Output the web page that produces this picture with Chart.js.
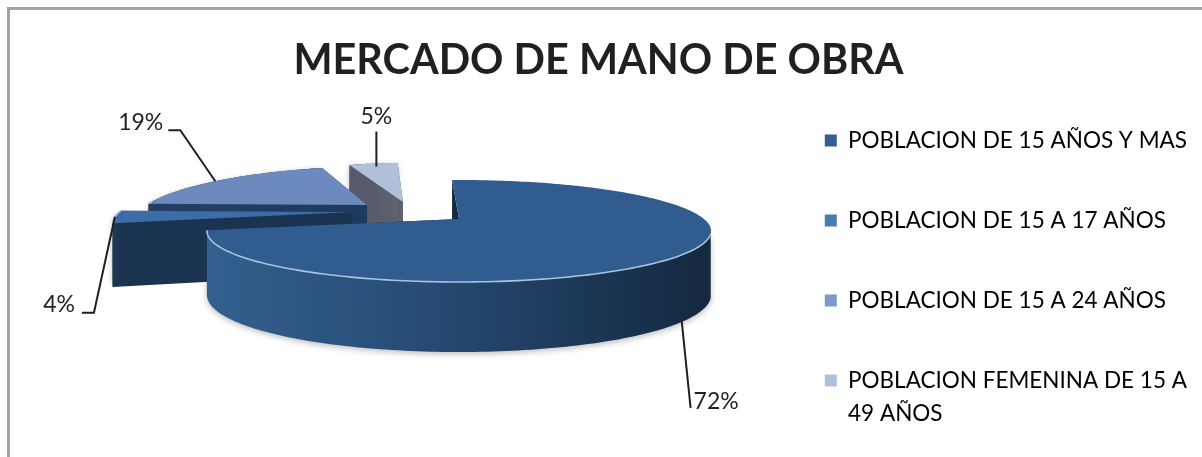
<!DOCTYPE html>
<html>
<head>
<meta charset="utf-8">
<title>Mercado de mano de obra</title>
<script src="https://cdn.jsdelivr.net/npm/chart.js@4"></script>
<style>
    html, body { margin: 0; padding: 0; background: #ffffff; overflow: hidden; height: 457px; }
    #wrap { position: absolute; left: 7px; top: 7px; width: 1195px; height: 486px; border-left: 3px solid #a2a2a2; border-top: 3px solid #a2a2a2; box-sizing: border-box; }
</style>
</head>
<body>
<div id="wrap"><canvas id="pieChart"></canvas></div>
<script>
const chartTitle = 'MERCADO DE MANO DE OBRA';
const categories = [
    'POBLACION DE 15 AÑOS Y MAS',
    'POBLACION DE 15 A 17 AÑOS',
    'POBLACION DE 15 A 24 AÑOS',
    ['POBLACION FEMENINA DE 15 A', '49 AÑOS']
];
const shares = [72, 4, 19, 5];
const legendColors = ['#345f94', '#4a7ab4', '#7b98c6', '#b0c0dc'];

// look of the tilted pie, one entry per slice
const topColors = ['#315c90', '#3d6ca6', '#6c8abd', '#b1c0d9'];
const wallLight = ['#33608f', '#1c3856', '#223f63', '#565a6b'];
const wallDark = ['#14283f', '#1a3350', '#1e3a5e', '#60646e'];
const shiftX = [0, -107, -92, -56];
const shiftY = [0, -7, -14, -17];
const shrinkX = [1, 0.95, 0.9, 0.78];
const skewX = [0, 0, 18, 0];
const leaders = [
    [[-4, 0], [5, 88]],
    [[0, 0], [-21, 96], [-33, 96]],
    [[-5, 1], [-40, -50], [-52, -50]],
    [[3, 3], [3, -32]]
];
const labelAt = [[8, 81, 'left'], [-40, 88, 'right'], [-57, -58, 'right'], [3, -47, 'center']];

// where the pie sits on the canvas and how it is tilted
const pieX = 449, pieY = 209;
const tiltA = 48.2, tiltB = 245, tiltP = 0.235;

function project(i, angle) {
    // chart.js angles start at 3 o'clock going clockwise
    const u = Math.cos(angle), v = -Math.sin(angle);
    const w = 1 + tiltP * v;
    return {
        x: pieX + shiftX[i] + shrinkX[i] * tiltB * u / w + skewX[i] * v,
        y: pieY + shiftY[i] - tiltA * v / w,
        v: v
    };
}

function depth(v) {
    return 62 - 8 * v;
}

function arcPoints(i, a0, a1) {
    const pts = [];
    const n = Math.max(2, Math.ceil((a1 - a0) / 0.02));
    for (let k = 0; k <= n; k++) pts.push(project(i, a0 + (a1 - a0) * k / n));
    return pts;
}

function polygon(ctx, pts) {
    ctx.beginPath();
    pts.forEach((p, k) => k ? ctx.lineTo(p.x, p.y) : ctx.moveTo(p.x, p.y));
    ctx.closePath();
}

function drawSlice(ctx, i, arc) {
    const apex = { x: pieX + shiftX[i], y: pieY + shiftY[i] };
    const rim = arcPoints(i, arc.startAngle, arc.endAngle);
    const down = p => ({ x: p.x, y: p.y + depth(p.v) });
    const apexDown = { x: apex.x, y: apex.y + depth(0) };
    // only the part of the big slice's rim turned towards the viewer gets a wall
    const front = i > 0 ? rim : rim.filter(p => p.v < -0.28 || (p.v < 0 && p.x < pieX));

    // flat cut walls first
    ctx.fillStyle = wallDark[i];
    [rim[0], rim[rim.length - 1]].forEach(p => {
        polygon(ctx, [apex, p, down(p), apexDown]);
        ctx.fill();
    });

    // outer wall
    const xs = front.map(p => p.x);
    const grad = ctx.createLinearGradient(Math.min(...xs), 0, Math.max(...xs), 0);
    grad.addColorStop(0, wallLight[i]);
    grad.addColorStop(0.45, i === 0 ? '#264a73' : wallLight[i]);
    grad.addColorStop(1, wallDark[i]);
    ctx.save();
    ctx.shadowColor = 'rgba(60,60,60,0.35)';
    ctx.shadowBlur = 6;
    ctx.shadowOffsetY = 2;
    ctx.fillStyle = grad;
    polygon(ctx, front.concat(front.map(down).reverse()));
    ctx.fill();
    ctx.restore();

    // top face
    ctx.fillStyle = topColors[i];
    polygon(ctx, [apex].concat(rim));
    ctx.fill();

    // light edge along the front
    ctx.strokeStyle = '#a9c3de';
    ctx.lineWidth = 1.6;
    ctx.beginPath();
    front.filter(p => p.v < 0.08).forEach((p, k) => k ? ctx.lineTo(p.x, p.y) : ctx.moveTo(p.x, p.y));
    ctx.stroke();
}

const tiltedPie = {
    id: 'tiltedPie',
    beforeDatasetsDraw(chart) {
        const ctx = chart.ctx;
        const arcs = chart.getDatasetMeta(0).data;
        ctx.save();
        // back to front
        [3, 2, 1, 0].forEach(i => drawSlice(ctx, i, arcs[i]));

        // leader lines and percentages
        arcs.forEach((arc, i) => {
            const p = project(i, (arc.startAngle + arc.endAngle) / 2);
            const x = p.x, y = p.v < -0.5 ? p.y + depth(p.v) : p.y;
            ctx.strokeStyle = '#231f20';
            ctx.lineWidth = 2;
            ctx.beginPath();
            leaders[i].forEach((o, k) => k ? ctx.lineTo(x + o[0], y + o[1]) : ctx.moveTo(x + o[0], y + o[1]));
            ctx.stroke();

            ctx.fillStyle = '#231f20';
            ctx.font = '23px Lato';
            ctx.textAlign = labelAt[i][2];
            ctx.textBaseline = 'middle';
            ctx.fillText(shares[i] + '%', x + labelAt[i][0], y + labelAt[i][1]);
        });
        ctx.restore();
        return false;
    }
};

new Chart(document.getElementById('pieChart'), {
    type: 'pie',
    data: {
        labels: categories,
        datasets: [{
            data: shares,
            backgroundColor: legendColors,
            borderWidth: 0
        }]
    },
    options: {
        responsive: true,
        maintainAspectRatio: false,
        animation: false,
        rotation: -2,
        layout: { padding: { left: -10, right: 5 } },
        plugins: {
            title: {
                display: true,
                text: chartTitle,
                color: '#231f20',
                font: { family: 'Lato', size: 41.4, weight: 'bold' },
                padding: { top: 26, bottom: 8 }
            },
            legend: {
                position: 'right',
                align: 'end',
                fullSize: true,
                labels: {
                    boxWidth: 12,
                    boxHeight: 12,
                    padding: 57.5,
                    color: '#231f20',
                    font: { family: 'Lato', size: 22.5, lineHeight: 1.47 },
                    generateLabels() {
                        return categories.map((c, i) => ({
                            text: c,
                            fillStyle: legendColors[i],
                            strokeStyle: legendColors[i],
                            lineWidth: 0,
                            index: i
                        }));
                    }
                }
            },
            tooltip: { enabled: false }
        }
    },
    plugins: [tiltedPie]
});
</script>
</body>
</html>
